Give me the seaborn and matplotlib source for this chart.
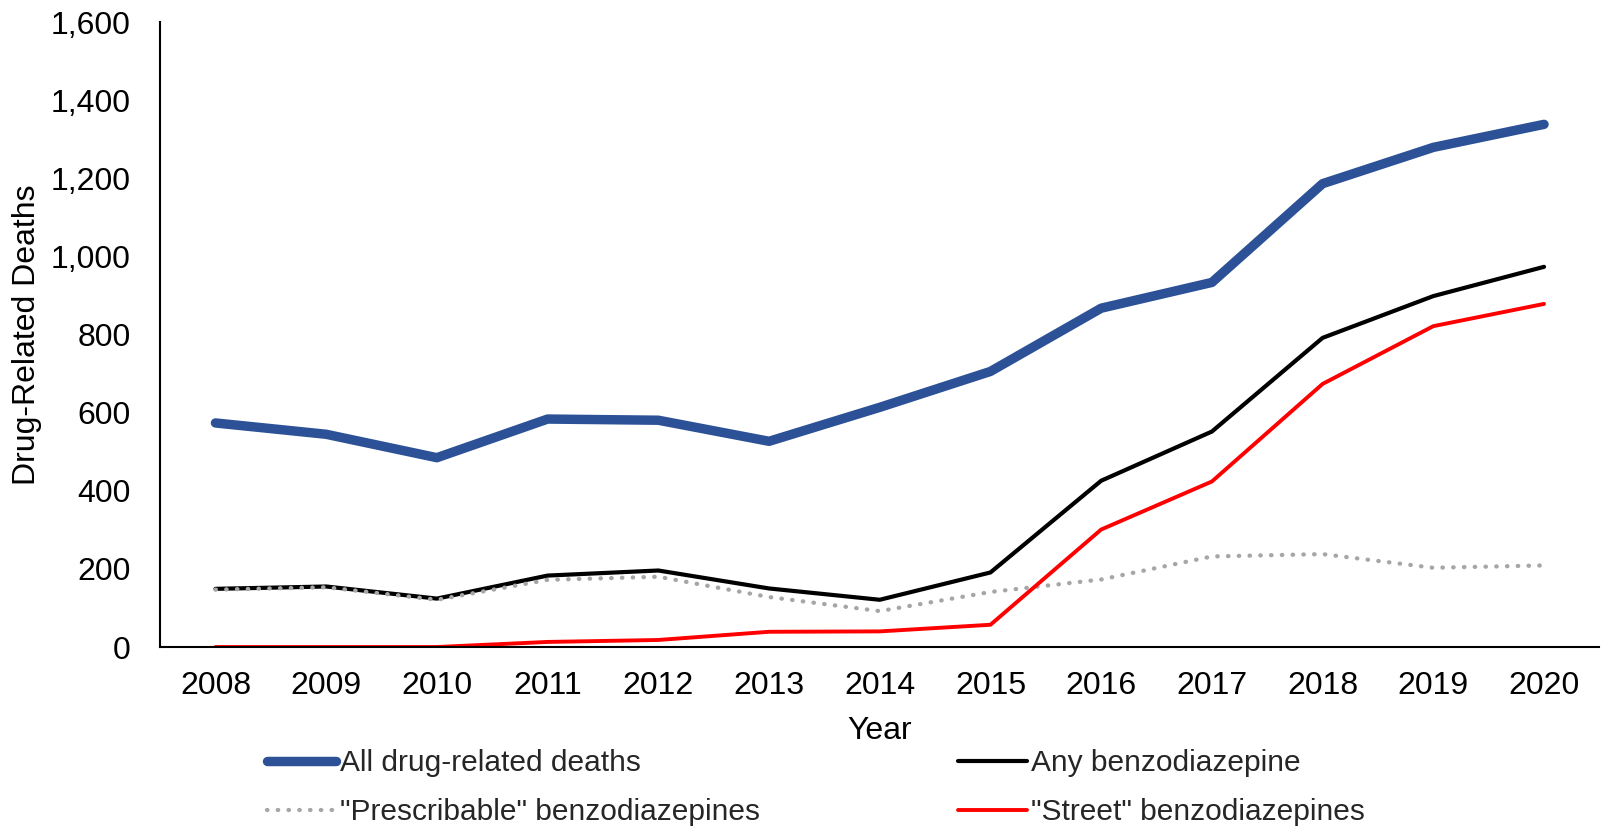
import matplotlib
matplotlib.use("Agg")
import matplotlib.pyplot as plt
import seaborn as sns
import pandas as pd

years = ["2008", "2009", "2010", "2011", "2012", "2013", "2014",
         "2015", "2016", "2017", "2018", "2019", "2020"]
all_deaths = [574, 545, 485, 584, 581, 527, 614, 706, 868, 934, 1187, 1280, 1339]
any_benzo = [149, 155, 124, 183, 196, 150, 121, 191, 426, 552, 792, 899, 974]
prescribable = [147, 153, 121, 172, 180, 128, 92, 141, 173, 232, 238, 203, 209]
street = [0, 0, 0, 13, 18, 39, 40, 57, 301, 424, 674, 822, 879]

sns.set_theme(style="white")
plt.rcParams["font.family"] = ["Liberation Sans", "DejaVu Sans"]
FS = 23
LEG_FS = 21.5

fig = plt.figure(figsize=(16.01, 8.26), dpi=100)
ax = fig.add_axes([0.1, 0.2167, 0.899, 0.7561])

idx = list(range(len(years)))
df = pd.DataFrame({"pos": idx, "all": all_deaths, "any": any_benzo,
                   "presc": prescribable, "street": street})

sns.lineplot(data=df, x="pos", y="all", ax=ax, color="#2C5197", linewidth=6.8,
             solid_capstyle="round", label="All drug-related deaths")
sns.lineplot(data=df, x="pos", y="any", ax=ax, color="black", linewidth=3.0,
             label="Any benzodiazepine")
sns.lineplot(data=df, x="pos", y="presc", ax=ax, color="#A6A6A6", linewidth=3.1,
             linestyle=(0, (0.1, 2.4)), dash_capstyle="round",
             label='"Prescribable" benzodiazepines')
sns.lineplot(data=df, x="pos", y="street", ax=ax, color="#FF0000", linewidth=2.8,
             label='"Street" benzodiazepines')

ax.set_xlim(-0.5, len(years) - 0.5)
ax.set_ylim(0, 1600)
ax.set_xticks(idx)
ax.set_xticklabels(years)
ax.set_yticks(range(0, 1601, 200))
ax.set_yticklabels([f"{v:,}" for v in range(0, 1601, 200)])
ax.tick_params(axis="both", length=0, labelsize=FS, colors="black")
ax.tick_params(axis="y", pad=21)
ax.tick_params(axis="x", pad=17)

for side in ["top", "right"]:
    ax.spines[side].set_visible(False)
for side in ["left", "bottom"]:
    ax.spines[side].set_color("black")
    ax.spines[side].set_linewidth(1.5)

ax.set_xlabel("Year", fontsize=FS, color="black")
ax.set_ylabel("Drug-Related Deaths", fontsize=FS, color="black")
ax.xaxis.label.set_va("center")
ax.yaxis.label.set_va("center")
ax.xaxis.set_label_coords(0.5, -0.1345)
ax.yaxis.set_label_coords(-0.0924, 0.5)

handles, labels = ax.get_legend_handles_labels()
ax.get_legend().remove()
order = [0, 2, 1, 3]
fig.legend([handles[i] for i in order], [labels[i] for i in order],
           loc="upper left", bbox_to_anchor=(0.1668, 0.0932), ncol=2, frameon=False,
           fontsize=LEG_FS, handlelength=2.3, handletextpad=0.13,
           columnspacing=6.65, labelspacing=0.71, borderaxespad=0, borderpad=0)

fig.savefig("out.png", dpi=100)
